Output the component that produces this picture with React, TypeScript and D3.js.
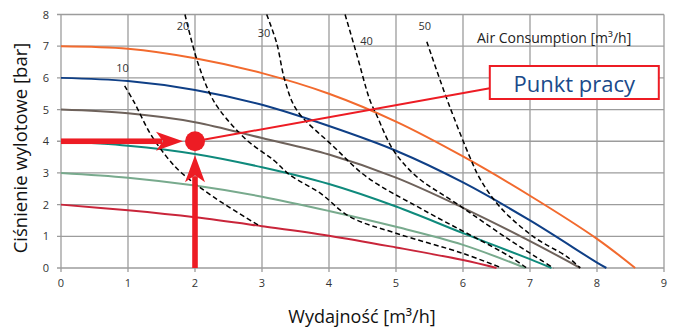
import * as d3 from 'd3'

type Pt = [number, number]

// axes
const xTicks = [0, 1, 2, 3, 4, 5, 6, 7, 8, 9]
const yTicks = [0, 1, 2, 3, 4, 5, 6, 7, 8]

// pump curves (flow m3/h, pressure bar)
const curve7: Pt[] = [[0, 7], [1, 6.92], [2, 6.62], [3, 6.15], [4, 5.5], [5, 4.62], [6, 3.52], [7, 2.28], [8, 0.92], [8.57, 0]]
const curve6: Pt[] = [[0, 6], [1, 5.9], [2, 5.62], [3, 5.15], [4, 4.48], [5, 3.7], [6, 2.7], [7, 1.5], [8, 0.17], [8.14, 0]]
const curve5: Pt[] = [[0, 5], [1, 4.88], [2, 4.6], [3, 4.1], [4, 3.58], [5, 2.85], [6, 1.9], [7, 0.85], [7.75, 0]]
const curve4: Pt[] = [[0, 4], [1, 3.86], [2, 3.6], [3, 3.18], [4, 2.65], [5, 1.94], [6, 1.1], [7, 0.28], [7.32, 0]]
const curve3: Pt[] = [[0, 3], [1, 2.85], [2, 2.6], [3, 2.25], [4, 1.8], [5, 1.3], [6, 0.73], [6.93, 0]]
const curve2: Pt[] = [[0, 2], [1, 1.82], [2, 1.6], [3, 1.32], [4, 1.02], [5, 0.65], [6, 0.25], [6.5, 0]]
const curveColors = ['#f26a2e', '#0f3f86', '#6e625b', '#0f8a7c', '#78aa8d', '#c9253a']

// air consumption isolines
const iso10: Pt[] = [[0.95, 5.75], [1.1, 5.2], [1.33, 4.25], [1.58, 3.5], [1.8, 3.0], [2.27, 2.25], [2.94, 1.36]]
const iso20: Pt[] = [[1.85, 8], [2.03, 6.56], [2.22, 5.51], [2.37, 4.98], [2.77, 4.04], [3.17, 3.41], [3.42, 2.93], [3.87, 2.36], [4.31, 1.62], [5.01, 1.09], [6.0, 0.46], [6.58, 0]]
const iso30: Pt[] = [[3.07, 8], [3.22, 7.09], [3.34, 5.93], [3.52, 4.98], [4.06, 3.85], [4.56, 2.88], [5.41, 1.83], [6.7, 0.36], [6.95, 0]]
const iso40: Pt[] = [[4.24, 8], [4.41, 6.77], [4.61, 5.3], [4.71, 4.83], [4.96, 3.72], [5.31, 2.88], [5.9, 2.04], [6.7, 0.88], [7.35, 0]]
const iso50: Pt[] = [[5.46, 7.14], [5.71, 5.62], [5.86, 4.77], [6.1, 3.51], [6.25, 2.83], [6.55, 1.93], [7.05, 0.99], [7.55, 0.36], [7.75, 0]]
const isoLabels = ['10', '20', '30', '40', '50']
const isoLabelAt: Pt[] = [[0.92, 6.3], [1.82, 7.63], [3.03, 7.41], [4.56, 7.15], [5.43, 7.63]]

// working point
const workPoint: Pt = [2, 4]
const calloutAt: Pt = [6.4, 5.67]

export default function App() {
  const width = 676
  const height = 333
  const x = d3.scaleLinear().domain([0, 9]).range([61, 664])
  const y = d3.scaleLinear().domain([0, 8]).range([268, 14.5])
  const line = d3.line<Pt>().x(d => x(d[0])).y(d => y(d[1])).curve(d3.curveCatmullRom.alpha(0.5))

  const curves = [curve7, curve6, curve5, curve4, curve3, curve2]
  const isos = [iso10, iso20, iso30, iso40, iso50]
  const red = '#ed1c24'
  const font = 'Open Sans, sans-serif'

  const px = x(workPoint[0])
  const py = y(workPoint[1])
  // horizontal arrow
  const hTip = px - 12
  const hBase = hTip - 27
  // vertical arrow
  const vTip = py + 14
  const vBase = vTip + 27

  const boxX = x(calloutAt[0])
  const boxY = 66

  return (
    <svg width={width} height={height} style={{ position: 'absolute', left: 0, top: 0 }} fontFamily={font}>
      <rect width={width} height={height} fill="#fff" />
      {xTicks.map(t => (
        <line key={'gx' + t} x1={x(t)} x2={x(t)} y1={y(8)} y2={y(0) + 4} stroke="#9c9c9c" strokeWidth={1.3} />
      ))}
      {yTicks.map(t => (
        <line key={'gy' + t} x1={x(0) - 4} x2={x(9)} y1={y(t)} y2={y(t)} stroke="#9c9c9c" strokeWidth={1.3} />
      ))}
      {xTicks.map(t => (
        <text key={'tx' + t} x={x(t)} y={287} textAnchor="middle" fontSize={11} fill="#333">{t}</text>
      ))}
      {yTicks.map(t => (
        <text key={'ty' + t} x={49} y={y(t) + 4} textAnchor="end" fontSize={11} fill="#333">{t}</text>
      ))}

      {curves.map((c, i) => (
        <path key={'c' + i} d={line(c) ?? ''} fill="none" stroke={curveColors[i]} strokeWidth={2} />
      ))}
      {isos.map((c, i) => (
        <path key={'i' + i} d={line(c) ?? ''} fill="none" stroke="#000" strokeWidth={1.5} strokeDasharray="5,3" />
      ))}
      {isoLabels.map((l, i) => (
        <text key={'il' + i} x={x(isoLabelAt[i][0])} y={y(isoLabelAt[i][1]) + 4} textAnchor="middle" fontSize={11} fill="#333">{l}</text>
      ))}
      <text x={477} y={43} fontSize={14} fill="#222">Air Consumption [m³/h]</text>

      {/* working point annotation */}
      <line x1={px} y1={py} x2={boxX} y2={y(calloutAt[1])} stroke={red} strokeWidth={2} />
      <rect x={x(0)} y={py - 2.8} width={hBase + 6 - x(0)} height={5.6} fill={red} />
      <path d={`M${hTip},${py} L${hBase},${py - 9.5} L${hBase + 7},${py} L${hBase},${py + 9.5} Z`} fill={red} />
      <rect x={px - 2.8} y={vBase - 6} width={5.6} height={y(0) - vBase + 6} fill={red} />
      <path d={`M${px},${vTip} L${px - 10},${vBase} L${px},${vBase - 7} L${px + 10},${vBase} Z`} fill={red} />
      <circle cx={px} cy={py} r={10} fill={red} />

      <rect x={boxX} y={boxY} width={169} height={33} fill="#fff" stroke={red} strokeWidth={2} />
      <text x={boxX + 84.5} y={boxY + 25.5} textAnchor="middle" fontSize={22} fill="#1a4a8a">Punkt pracy</text>

      <text transform={`translate(27,148) rotate(-90)`} textAnchor="middle" fontSize={18.5} fill="#111">Ciśnienie wylotowe [bar]</text>
      <text x={362} y={323} textAnchor="middle" fontSize={18} fill="#111">Wydajność [m³/h]</text>
    </svg>
  )
}
